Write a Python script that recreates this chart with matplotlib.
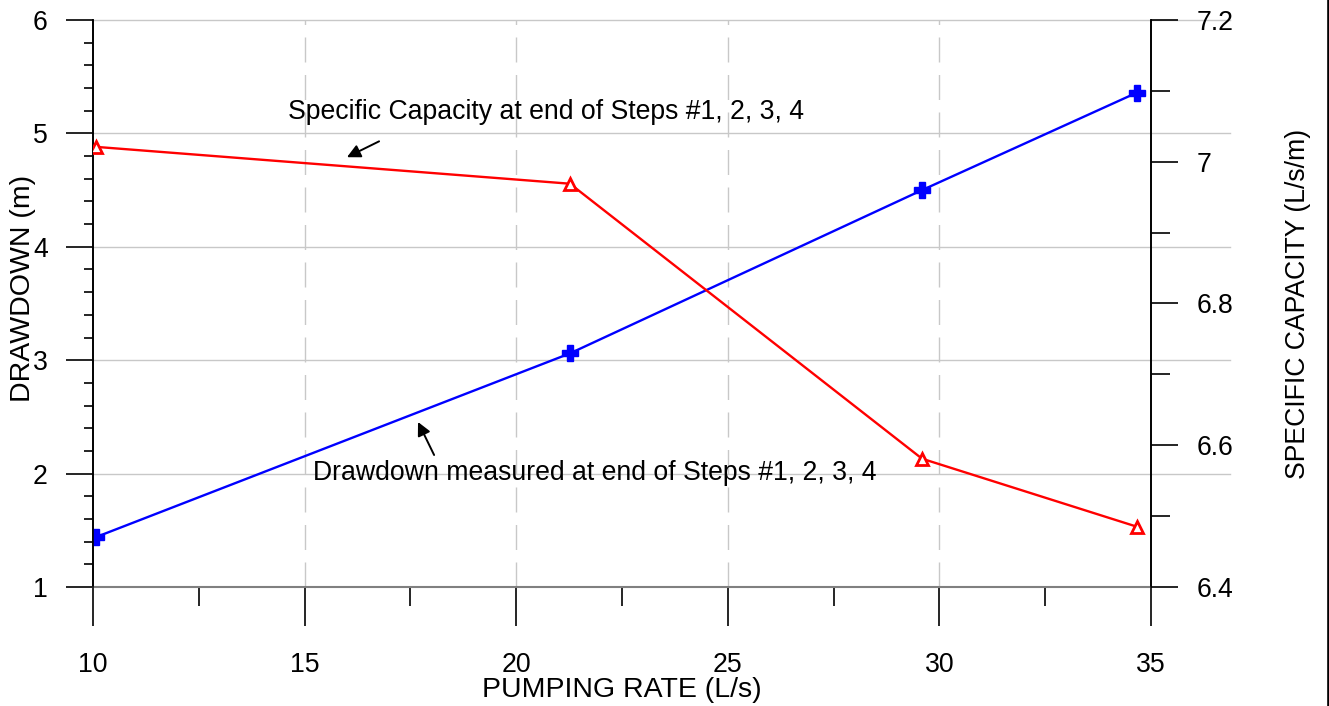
import matplotlib
matplotlib.use('Agg')
import matplotlib.pyplot as plt
from matplotlib.lines import Line2D
from matplotlib.ticker import MultipleLocator, FormatStrFormatter

plt.rcParams['font.family'] = ['Liberation Sans', 'DejaVu Sans']

# values
rate = [10.07, 21.27, 29.59, 34.67]          # L/s
drawdown = [1.44, 3.06, 4.50, 5.36]          # m
spec_cap = [7.021, 6.969, 6.581, 6.485]      # L/s/m

x_ticks = [10, 15, 20, 25, 30, 35]
left_ticks = [1, 2, 3, 4, 5, 6]
right_ticks = [6.4, 6.6, 6.8, 7.0, 7.2]

fs = 19.2
grid_col = '#c8c8c8'

fig = plt.figure(figsize=(13.29, 7.06), dpi=100)
ax = fig.add_axes([0.06998, 0.16856, 0.79609, 0.80312])
ax2 = ax.twinx()

ax.set_xlim(10, 35)
ax.set_ylim(1, 6)
ax2.set_ylim(6.4, 7.2)

# grid: dashed verticals, solid horizontals running a bit past the right axis
for xv in x_ticks[1:-1]:
    ax.axvline(xv, color=grid_col, lw=1.0, ls=(0, (18, 9)), zorder=0)
for yv in left_ticks[1:]:
    ax.plot([0, 1.0747], [(yv - 1) / 5.0] * 2, transform=ax.transAxes,
            color=grid_col, lw=1.0, clip_on=False, zorder=0)

ax.plot(rate, drawdown, color='#0000ff', lw=1.7, marker='P', ms=11,
        mec='#0000ff', mfc='#0000ff', zorder=3)
ax2.plot(rate, spec_cap, color='#ff0000', lw=1.7, marker='^', ms=9,
         mec='#ff0000', mfc='white', mew=2.0, zorder=3)

# ticks
ax.set_xticks(x_ticks)
ax.xaxis.set_minor_locator(MultipleLocator(2.5))
ax.set_yticks(left_ticks)
ax.yaxis.set_minor_locator(MultipleLocator(0.2))
ax2.set_yticks(right_ticks)
ax2.yaxis.set_minor_locator(MultipleLocator(0.1))
ax2.yaxis.set_major_formatter(FormatStrFormatter('%g'))

ax.tick_params(axis='x', which='major', direction='out', length=28, width=1.2,
               pad=19, labelsize=fs, color='black')
ax.tick_params(axis='x', which='minor', direction='out', length=14, width=1.2)
ax.tick_params(axis='y', which='major', direction='out', length=19.5, width=1.2,
               pad=13, labelsize=fs)
ax.tick_params(axis='y', which='minor', direction='out', length=6.5, width=1.2)
ax2.tick_params(axis='y', which='major', direction='out', length=19.5, width=1.2,
                pad=13, labelsize=fs)
ax2.tick_params(axis='y', which='minor', direction='out', length=14, width=1.2)

for a in (ax, ax2):
    a.spines['top'].set_visible(False)
    a.spines['bottom'].set_color('#808080')
    a.spines['bottom'].set_linewidth(1.5)
    a.spines['left'].set_linewidth(1.2)
    a.spines['right'].set_linewidth(1.2)
ax2.spines['bottom'].set_visible(False)

ax.set_xlabel('PUMPING RATE (L/s)', fontsize=20.5)
ax.xaxis.set_label_coords(0.5, -0.182)
ax.xaxis.label.set_va('center')
ax.set_ylabel('DRAWDOWN (m)', fontsize=20.5)
ax.yaxis.set_label_coords(-0.066, 0.527)
ax.yaxis.label.set_va('center')
ax2.set_ylabel('SPECIFIC CAPACITY (L/s/m)', fontsize=fs)
ax2.yaxis.set_label_coords(1.139, 0.5)
ax2.yaxis.label.set_va('center')

# annotations
arrow = dict(arrowstyle='-|>', color='black', lw=1.4, mutation_scale=20,
             shrinkA=0, shrinkB=0)
ax.text(14.61, 5.19, 'Specific Capacity at end of Steps #1, 2, 3, 4',
        fontsize=fs, ha='left', va='center')
ax.annotate('', xy=(16.00, 4.79), xytext=(16.76, 4.93), arrowprops=arrow)
ax.text(15.20, 2.005, 'Drawdown measured at end of Steps #1, 2, 3, 4',
        fontsize=fs, ha='left', va='center')
ax.annotate('', xy=(17.68, 2.455), xytext=(18.06, 2.164), arrowprops=arrow)

# right frame edge
fig.add_artist(Line2D([0.9991, 0.9991], [0, 1], transform=fig.transFigure,
                      color='black', lw=1.9))

fig.savefig('out.png', dpi=100)
